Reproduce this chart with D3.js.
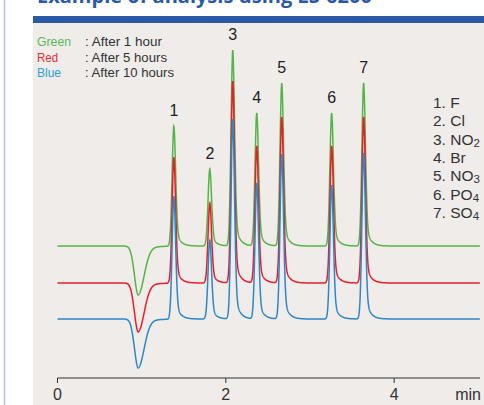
<!DOCTYPE html>
<html>
<head>
<meta charset="utf-8">
<style>
    body { margin: 0; background: #fff; }
    svg { display: block; font-family: 'Liberation Sans', Arial, sans-serif; }
</style>
</head>
<body>
<svg width="484" height="405"></svg>
<script src="https://d3js.org/d3.v7.min.js"></script>
<script>
    // chart values
    const seriesNames = ["Green", "Red", "Blue"]
    const seriesNotes = [": After 1 hour", ": After 5 hours", ": After 10 hours"]
    const seriesOffsets = [73, 36, 0]          // baseline of each trace (signal units)

    const peakNumbers = ["1", "2", "3", "4", "5", "6", "7"]
    const peakTimes = [1.383, 1.81, 2.083, 2.368, 2.665, 3.258, 3.638]   // min
    const heightsGreen = [120, 77, 196, 133, 163, 133, 163]
    const heightsRed = [126, 80, 202, 137, 166, 137, 166]
    const heightsBlue = [123, 79, 200, 136, 165, 134, 166]

    const dipTime = 0.96
    const dipDepth = 49

    const ionNames = [["1. F", ""], ["2. Cl", ""], ["3. NO", "2"], ["4. Br", ""],
                      ["5. NO", "3"], ["6. PO", "4"], ["7. SO", "4"]]
    const xTicks = [0, 2, 4]

    let heights = [heightsGreen, heightsRed, heightsBlue]
    let colors = ["#55b447", "#ec1c2a", "#2d87c9"]
    let textColors = ["#5cb85a", "#ea2a37", "#2ba0dc"]
    // text widths in the reference (the legend font there is narrow)
    let nameWidths = [34, 21, 24]
    let noteWidths = [77, 82, 89]

    let svg = d3.select("svg")
    let width = 484, height = 405

    // frame
    svg.append("rect").attr("x", 33).attr("y", 23).attr("width", width - 33).attr("height", height - 23)
        .style("fill", "#efecea")
    svg.append("rect").attr("x", 33).attr("y", 16).attr("width", width - 33).attr("height", 7)
        .style("fill", "#2a5aa6")
    svg.append("line").attr("x1", 4.5).attr("x2", 4.5).attr("y1", 0).attr("y2", height)
        .style("stroke", "#a9c3e6").style("stroke-width", 1.5)
    svg.append("text").attr("x", 37).attr("y", 3)
        .style("font-family", "'Open Sans', sans-serif").style("font-weight", "bold")
        .style("font-size", "20px").style("fill", "#2a5aa6")
        .text("Example of analysis using LS-6200")

    let x = d3.scaleLinear().domain([0, 5.02]).range([57.5, 480])
    let y = d3.scaleLinear().domain([-60, 280]).range([379, 39])

    // peak shape: gaussian with a tail on the right
    function peak(t, t0, h) {
        let s = 0.021, tau = 0.05, a = 0.2
        let dt = t - t0
        let g = Math.exp(-dt * dt / (2 * s * s))
        let e = dt < 0 ? g : Math.exp(-dt / tau)
        return h * ((1 - a) * g + a * e)
    }
    function dip(t) {
        let dt = t - dipTime
        let s = dt < 0 ? 0.045 : 0.07
        let g = Math.exp(-dt * dt / (2 * s * s))
        let tail = dt < 0 ? g : Math.exp(-dt / 0.12)
        return -dipDepth * (0.9 * g + 0.1 * tail)
    }

    let times = d3.range(0, 5.02, 0.002)
    let line = d3.line().x(d => x(d[0])).y(d => y(d[1]))

    seriesNames.forEach((name, i) => {
        let pts = times.map(t => {
            let v = seriesOffsets[i] + dip(t)
            peakTimes.forEach((p, k) => { v += peak(t, p, heights[i][k]) })
            return [t, v]
        })
        svg.append("path")
            .attr("d", line(pts))
            .style("fill", "none")
            .style("stroke", colors[i])
            .style("stroke-width", 1.5)
    })

    // peak numbers above the green trace
    svg.selectAll(".pnum")
        .data(peakNumbers)
        .join("text")
        .attr("class", "pnum")
        .attr("x", (d, k) => x(peakTimes[k]))
        .attr("y", (d, k) => y(seriesOffsets[0] + heightsGreen[k]) - 10)
        .attr("text-anchor", "middle")
        .style("font-size", "16px")
        .style("fill", "#222")
        .text(d => d)

    // legend, top left
    let leg = svg.append("g").style("font-size", "13px")
    seriesNames.forEach((name, i) => {
        leg.append("text").attr("x", 37).attr("y", 46 + i * 15.5).style("fill", textColors[i])
            .attr("textLength", nameWidths[i]).attr("lengthAdjust", "spacingAndGlyphs").text(name)
        leg.append("text").attr("x", 85).attr("y", 46 + i * 15.5).style("fill", "#333")
            .attr("textLength", noteWidths[i]).attr("lengthAdjust", "spacingAndGlyphs").text(seriesNotes[i])
    })

    // ion list, right
    let ions = svg.append("g").style("font-size", "15.5px").style("fill", "#333")
    ionNames.forEach((d, i) => {
        let t = ions.append("text").attr("x", 433).attr("y", 108 + i * 18.3).text(d[0])
        if (d[1]) t.append("tspan").attr("dy", 2).style("font-size", "11.5px").text(d[1])
    })

    // x axis
    let axis = svg.append("g").attr("transform", "translate(0,378)")
    axis.append("line").attr("x1", x(0)).attr("x2", 480).style("stroke", "#333").style("stroke-width", 1.2)
    axis.selectAll(".tick")
        .data(xTicks)
        .join("line")
        .attr("x1", d => x(d)).attr("x2", d => x(d))
        .attr("y1", 0).attr("y2", 5)
        .style("stroke", "#333")
    axis.selectAll(".tlab")
        .data(xTicks)
        .join("text")
        .attr("x", d => x(d)).attr("y", 22)
        .attr("text-anchor", "middle")
        .style("font-size", "16px").style("fill", "#333")
        .text(d => d)
    axis.append("text").attr("x", 481).attr("y", 22).attr("text-anchor", "end")
        .style("font-size", "16px").style("fill", "#333").text("min")
</script>
</body>
</html>
